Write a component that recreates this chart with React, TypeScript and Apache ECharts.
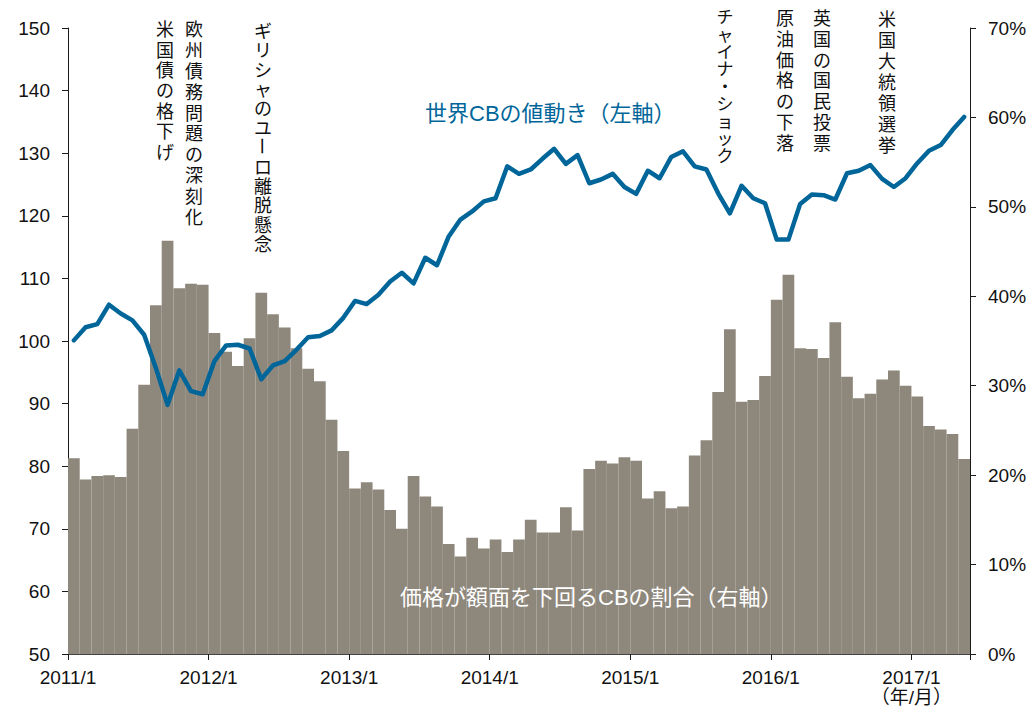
import React, { useEffect, useRef } from "react";
import * as echarts from "echarts";

const startYear = 2011;
const monthCount = 77;
const months: string[] = [];
for (let i = 0; i < monthCount; i++) {
  months.push(`${startYear + Math.floor(i / 12)}/${(i % 12) + 1}`);
}

const tickLabels = ["2011/1", "2012/1", "2013/1", "2014/1", "2015/1", "2016/1", "2017/1"];
const unitLabel = "（年/月）";

// 世界CBの値動き（左軸）
const cbIndex = [
  100.1, 102.2, 102.7, 105.8, 104.4, 103.3, 101.0, 95.7, 89.8, 95.3, 92.0, 91.5,
  96.8, 99.3, 99.4, 98.8, 93.9, 96.1, 96.8, 98.6, 100.6, 100.8, 101.7, 103.7,
  106.4, 105.9, 107.4, 109.5, 110.9, 109.2, 113.3, 112.1, 116.7, 119.4, 120.7, 122.3,
  122.8, 127.9, 126.7, 127.4, 129.1, 130.7, 128.3, 129.7, 125.2, 125.8, 126.7, 124.6,
  123.5, 127.2, 126.0, 129.4, 130.3, 127.9, 127.4, 123.6, 120.4, 124.8, 122.8, 122.0,
  116.2, 116.2, 121.9, 123.4, 123.3, 122.6, 126.8, 127.2, 128.1, 125.9, 124.6, 126.0,
  128.4, 130.4, 131.3, 133.7, 135.8,
];

// 価格が額面を下回るCBの割合（右軸, %）
const belowPar = [
  21.9, 19.5, 19.9, 20.0, 19.8, 25.2, 30.1, 39.0, 46.2, 40.9, 41.4, 41.3,
  35.9, 33.8, 32.2, 35.3, 40.4, 38.0, 36.5, 34.2, 31.9, 30.5, 26.2, 22.7,
  18.5, 19.2, 18.4, 16.1, 14.0, 19.9, 17.6, 16.5, 12.3, 10.9, 13.0, 11.8,
  12.8, 11.4, 12.8, 15.0, 13.6, 13.6, 16.4, 13.8, 20.7, 21.6, 21.3, 22.0,
  21.6, 17.4, 18.2, 16.3, 16.5, 22.2, 23.9, 29.3, 36.3, 28.2, 28.4, 31.1,
  39.6, 42.4, 34.2, 34.1, 33.1, 37.1, 31.0, 28.6, 29.1, 30.7, 31.7, 30.0,
  28.8, 25.5, 25.1, 24.6, 21.8,
];

const events = [
  "米国債の格下げ",
  "欧州債務問題の深刻化",
  "ギリシャのユーロ離脱懸念",
  "チャイナ・ショック",
  "原油価格の下落",
  "英国の国民投票",
  "米国大統領選挙",
];

const lineLabel = "世界CBの値動き（左軸）";
const barLabel = "価格が額面を下回るCBの割合（右軸）";

const LATIN = '"Liberation Sans", Arial, "Noto Sans CJK JP", sans-serif';
const JP = '"Noto Sans CJK JP", "Liberation Sans", sans-serif';

// layout of vertical annotations (center x, top y, step per char, font size)
const eventLayout = [
  { x: 165, y: 18, step: 20.4, size: 18 },
  { x: 194, y: 18, step: 20.8, size: 18 },
  { x: 263, y: 20, step: 19.4, size: 18 },
  { x: 725, y: 7, step: 17.4, size: 17 },
  { x: 785, y: 7, step: 20.7, size: 18 },
  { x: 822, y: 7, step: 20.7, size: 18 },
  { x: 887, y: 7, step: 21, size: 18 },
];

// Vertical text: runs of characters stacked one per line; the long vowel mark is rotated.
function verticalText(text: string, lay: { x: number; y: number; step: number; size: number }) {
  const chars = Array.from(text);
  const children: any[] = [];
  let run: string[] = [];
  let runStart = 0;
  const flush = (endIdx: number) => {
    if (run.length) {
      children.push({
        type: "text",
        x: lay.x,
        y: lay.y + lay.step * runStart,
        style: {
          text: run.join("\n"),
          fill: "#111",
          font: `${lay.size}px ${JP}`,
          lineHeight: lay.step,
          align: "center",
          verticalAlign: "top",
        },
      });
    }
    run = [];
    runStart = endIdx + 1;
  };
  chars.forEach((ch, i) => {
    if (ch === "ー") {
      flush(i);
      children.push({
        type: "text",
        x: lay.x,
        y: lay.y + lay.step * (i + 0.5),
        rotation: -Math.PI / 2,
        style: {
          text: ch,
          fill: "#111",
          font: `${lay.size}px ${JP}`,
          align: "center",
          verticalAlign: "middle",
        },
      });
    } else {
      if (!run.length) runStart = i;
      run.push(ch);
    }
  });
  flush(chars.length);
  return { type: "group", z: 100, children };
}

export default function App() {
  const ref = useRef<HTMLDivElement>(null);
  useEffect(() => {
    if (!ref.current) return;
    const chart = echarts.init(ref.current, undefined, { renderer: "svg" });
    const labelAxisData: string[] = [];
    for (let i = 0; i <= monthCount; i++) {
      labelAxisData.push(i % 12 === 0 && tickLabels[i / 12] ? tickLabels[i / 12] : "");
    }
    const lastTick = tickLabels[tickLabels.length - 1];
    const axisColor = "#1a1a1a";
    chart.setOption({
      animation: false,
      backgroundColor: "#fff",
      grid: { left: 68, right: 61, top: 28, bottom: 55, containLabel: false },
      xAxis: [
        {
          type: "category",
          data: months,
          position: "top",
          show: false,
          boundaryGap: true,
        },
        {
          type: "category",
          data: labelAxisData,
          position: "bottom",
          boundaryGap: false,
          axisLine: { show: true, lineStyle: { color: "#444", width: 1 } },
          axisTick: { show: true, interval: 11, length: 6, lineStyle: { color: axisColor } },
          axisLabel: {
            interval: 0,
            margin: 13,
            color: "#111",
            fontSize: 19,
            fontFamily: LATIN,
            lineHeight: 20,
            formatter: (v: string) => (v === lastTick ? `${v}\n${unitLabel}` : v),
          },
          splitLine: { show: false },
        },
      ],
      yAxis: [
        {
          type: "value",
          min: 50,
          max: 150,
          interval: 10,
          position: "left",
          axisLine: { show: true, lineStyle: { color: axisColor } },
          axisTick: { show: true, length: 6, lineStyle: { color: axisColor } },
          axisLabel: { color: "#111", fontSize: 19, fontFamily: LATIN, margin: 18 },
          splitLine: { show: false },
        },
        {
          type: "value",
          min: 0,
          max: 70,
          interval: 10,
          position: "right",
          axisLine: { show: true, lineStyle: { color: axisColor } },
          axisTick: { show: true, length: 6, lineStyle: { color: axisColor } },
          axisLabel: {
            color: "#111",
            fontSize: 19,
            fontFamily: LATIN,
            margin: 18,
            formatter: "{value}%",
          },
          splitLine: { show: false },
        },
      ],
      series: [
        {
          type: "bar",
          name: barLabel,
          xAxisIndex: 0,
          yAxisIndex: 1,
          data: belowPar,
          barCategoryGap: "0%",
          itemStyle: { color: "#8e877c" },
          z: 1,
        },
        {
          type: "line",
          name: lineLabel,
          xAxisIndex: 0,
          yAxisIndex: 0,
          data: cbIndex,
          symbol: "none",
          lineStyle: { color: "#00669a", width: 4.5, join: "round", cap: "round" },
          z: 3,
        },
      ],
      graphic: [
        ...events.map((t, i) => verticalText(t, eventLayout[i])),
        {
          type: "text",
          z: 100,
          x: 425,
          y: 113,
          style: {
            text: lineLabel,
            fill: "#00669a",
            font: `22px ${LATIN}`,
            align: "left",
            verticalAlign: "middle",
          },
        },
        {
          type: "text",
          z: 100,
          x: 400,
          y: 597,
          style: {
            text: barLabel,
            fill: "#ffffff",
            font: `22px ${LATIN}`,
            align: "left",
            verticalAlign: "middle",
          },
        },
      ],
    });
    return () => chart.dispose();
  }, []);
  return (
    <div
      ref={ref}
      style={{ position: "absolute", left: 0, top: 0, width: 1031, height: 709 }}
    />
  );
}
